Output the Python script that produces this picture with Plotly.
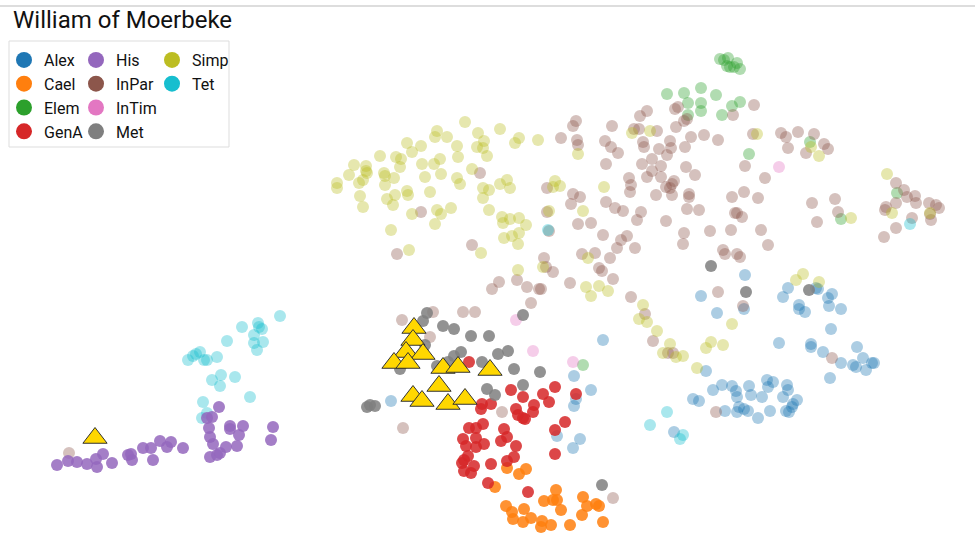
import plotly.graph_objects as go

W, H = 975, 553

categories = ["Alex", "Cael", "Elem", "GenA", "His", "InPar", "InTim", "Met", "Simp", "Tet"]
colors = {"Alex": "#1f77b4", "Cael": "#ff7f0e", "Elem": "#2ca02c", "GenA": "#d62728",
          "His": "#9467bd", "InPar": "#8c564b", "InTim": "#e377c2", "Met": "#7f7f7f",
          "Simp": "#bcbd22", "Tet": "#17becf"}
highlight = {"Cael", "GenA", "His", "Met"}

alex = [(745,275),(701,296),(717,313),(744,309),(603,340),(706,371),(783,297),(788,288),(816,288),(818,289),
        (828,298),(832,294),(799,305),(799,309),(805,312),(829,306),(841,309),(831,329),(779,343),(811,344),
        (811,347),(823,352),(857,347),(841,363),(853,365),(856,367),(863,358),(866,370),(872,363),(874,363),
        (830,378),(693,399),(699,401),(713,390),(722,385),(732,386),(736,391),(737,397),(749,386),(751,395),
        (762,397),(767,380),(773,382),(768,387),(787,385),(788,390),(783,397),(793,404),(792,407),(797,400),
        (786,411),(789,412),(770,411),(758,418),(748,411),(744,409),(739,407),(737,412),(725,411),(674,432),
        (574,376),(591,390),(576,399),(574,406),(557,436),(580,439),(573,448),(391,401)]
cael = [(507,468),(519,474),(526,469),(495,487),(506,506),(512,512),(513,519),(524,509),(523,522),(531,518),
        (542,521),(541,527),(551,525),(544,501),(553,500),(556,490),(557,500),(561,510),(570,525),(583,497),
        (587,506),(596,504),(599,506),(582,515),(603,522)]
elem = [(720,59),(724,60),(728,58),(730,67),(737,63),(740,69),(734,67),(727,66),(667,94),(684,93),(701,88),
        (716,95),(688,103),(701,103),(701,111),(688,115),(722,115),(732,106),(740,102),(749,154),(810,142),
        (897,193),(841,219),(583,365)]
gena = [(469,362),(511,390),(523,397),(543,394),(549,402),(555,387),(576,394),(482,404),(491,404),(481,409),
        (516,409),(518,415),(523,418),(525,419),(534,405),(533,412),(483,424),(469,428),(476,428),(504,429),
        (507,437),(501,441),(555,430),(565,422),(463,439),(466,446),(476,438),(476,447),(484,444),(516,446),
        (468,456),(462,463),(464,460),(474,466),(464,471),(471,473),(491,464),(507,461),(514,457),(555,454),
        (488,483),(528,492)]
his = [(57,465),(68,461),(77,462),(87,464),(96,459),(97,467),(103,454),(112,463),(128,455),(132,460),
       (131,454),(143,448),(151,448),(153,460),(160,441),(167,447),(171,442),(183,448),(210,457),(217,455),
       (220,453),(226,447),(237,446),(213,444),(210,437),(209,428),(230,426),(230,429),(239,435),(243,426),
       (219,407),(212,417),(207,418),(273,427),(271,440)]
inpar = [(576,121),(573,126),(612,126),(640,116),(647,111),(675,109),(678,107),(687,119),(684,121),(676,127),
         (754,105),(733,115),(561,138),(577,140),(578,145),(605,141),(611,147),(618,153),(634,129),(639,129),
         (657,131),(643,142),(644,147),(659,149),(670,141),(671,148),(667,155),(685,147),(691,137),(704,135),
         (718,140),(753,134),(781,133),(786,137),(798,132),(788,148),(814,134),(806,153),(824,144),(828,149),
         (606,164),(642,164),(652,159),(661,166),(652,171),(647,177),(661,177),(686,167),(695,175),(674,181),
         (672,184),(666,187),(670,188),(672,195),(629,178),(631,185),(630,192),(656,195),(689,194),(689,197),
         (745,166),(765,178),(744,192),(732,197),(758,198),(573,194),(580,197),(571,204),(547,188),(606,202),
         (615,208),(623,211),(641,212),(687,209),(699,210),(735,213),(737,213),(742,217),(547,212),(480,173),
         (578,224),(591,223),(603,235),(627,236),(621,240),(637,220),(666,221),(684,233),(683,244),(710,231),
         (731,230),(761,230),(768,245),(617,248),(635,248),(582,254),(595,253),(610,258),(544,258),(546,267),
         (553,272),(599,268),(602,271),(613,279),(570,283),(541,289),(631,297),(723,250),(725,254),(737,254),
         (740,257),(718,292),(743,306),(472,245),(499,282),(492,289),(517,280),(527,287),(539,289),(531,303),
         (463,312),(475,312),(645,314),(653,341),(397,254),(421,212),(549,231),(433,312),(402,320),(430,337),
         (502,412),(403,428),(613,498),(668,353),(673,353),(832,358),(716,412),(69,453),(812,203),(835,199),
         (838,212),(817,222),(896,183),(904,190),(907,197),(915,196),(916,203),(896,203),(886,207),(885,210),
         (929,203),(936,205),(939,208),(930,214),(931,220),(912,218),(896,228),(884,237)]
intim = [(516,320),(533,351),(573,362),(779,167)]
met = [(427,313),(423,321),(443,326),(454,329),(471,336),(489,336),(425,345),(454,356),(461,352),(448,362),
       (437,366),(498,354),(508,351),(482,362),(514,369),(540,372),(523,385),(487,389),(495,395),(400,369),
       (370,405),(375,406),(367,407),(602,485),(523,315),(711,266),(746,292),(809,290)]
simp = [(465,122),(500,129),(478,133),(519,138),(515,143),(538,140),(437,131),(435,137),(447,137),(407,143),
        (421,146),(457,146),(477,147),(484,141),(483,148),(412,152),(380,156),(396,157),(401,159),(458,157),
        (487,156),(354,165),(366,166),(366,171),(367,173),(422,164),(434,164),(440,159),(400,167),(472,169),
        (349,175),(384,173),(385,176),(394,178),(363,180),(359,183),(337,183),(337,188),(425,177),(441,174),
        (457,178),(460,184),(385,185),(407,191),(408,195),(430,192),(395,195),(387,199),(393,205),(360,196),
        (363,207),(412,214),(437,210),(441,214),(451,208),(435,224),(391,230),(409,250),(483,188),(489,190),
        (500,184),(507,180),(510,188),(483,198),(489,210),(502,217),(503,223),(510,219),(519,218),(526,225),
        (519,233),(504,238),(512,236),(518,244),(481,253),(555,181),(560,186),(553,187),(549,211),(518,270),
        (578,154),(604,187),(583,211),(632,133),(650,131),(757,134),(588,258),(543,267),(586,287),(599,286),
        (608,291),(591,296),(643,305),(796,280),(803,274),(819,282),(639,319),(647,322),(657,331),(670,344),
        (663,353),(676,357),(683,356),(697,368),(706,348),(711,342),(723,345),(732,324),(811,147),(819,156),
        (887,174),(892,213),(851,218),(930,213)]
tet = [(280,316),(242,327),(258,323),(262,329),(259,327),(254,335),(263,342),(254,343),(257,350),(227,341),
       (217,357),(200,352),(196,354),(193,356),(188,360),(204,360),(207,360),(212,380),(221,375),(220,386),
       (235,377),(250,397),(203,402),(207,413),(202,418),(548,230),(910,224),(667,412),(650,425),(683,435),
       (680,439)]
moerbeke = [(414,328),(413,340),(406,352),(423,354),(394,363),(408,363),(443,368),(458,367),(490,370),
            (439,386),(413,396),(422,401),(448,404),(465,399),(95,438)]

series = {"Alex": alex, "Cael": cael, "Elem": elem, "GenA": gena, "His": his, "InPar": inpar,
          "InTim": intim, "Met": met, "Simp": simp, "Tet": tet}

fig = go.Figure()

order = [c for c in categories if c not in highlight] + [c for c in categories if c in highlight]
for cat in order:
    pts = series[cat]
    fig.add_trace(go.Scatter(
        x=[p[0] for p in pts], y=[p[1] for p in pts], mode="markers", name=cat,
        legendgroup=cat, showlegend=False,
        marker=dict(size=12, color=colors[cat], opacity=0.85 if cat in highlight else 0.37,
                    line=dict(width=0)),
        hoverinfo="name"))

fig.add_trace(go.Scatter(
    x=[p[0] for p in moerbeke], y=[p[1] for p in moerbeke], mode="markers", name="William of Moerbeke",
    showlegend=False,
    marker=dict(symbol="triangle-up", size=21, color="#FFD700", line=dict(width=1, color="#333333"))))

legend_cols = [["Alex", "Cael", "Elem", "GenA"], ["His", "InPar", "InTim", "Met"], ["Simp", "Tet"]]
legend_names = ["legend", "legend2", "legend3"]
for lname, cols in zip(legend_names, legend_cols):
    for cat in cols:
        fig.add_trace(go.Scatter(x=[None], y=[None], mode="markers", name=cat, legendgroup=cat,
                                 legend=lname, showlegend=True,
                                 marker=dict(size=16, color=colors[cat])))

def px(x):
    return x / W

def py(y):
    return 1 - y / H

legend_x = [4, 76, 152]
layout_legends = {}
for lname, lx in zip(legend_names, legend_x):
    layout_legends[lname] = dict(x=px(lx), y=py(43), xanchor="left", yanchor="top",
                                 bgcolor="rgba(0,0,0,0)", borderwidth=0, tracegroupgap=0,
                                 font=dict(family="Roboto", size=16, color="#111"),
                                 itemclick=False, itemdoubleclick=False)

fig.update_layout(
    width=W, height=H,
    margin=dict(l=0, r=0, t=0, b=0),
    paper_bgcolor="white", plot_bgcolor="white",
    xaxis=dict(range=[0, W], visible=False, fixedrange=True),
    yaxis=dict(range=[H, 0], visible=False, fixedrange=True),
    title=dict(text="William of Moerbeke", x=px(13), y=py(11), xanchor="left", yanchor="top",
               xref="paper", yref="paper",
               font=dict(family="Roboto", size=24, color="#111")),
    shapes=[
        dict(type="line", xref="paper", yref="paper", x0=0, x1=1, y0=py(6), y1=py(6),
             line=dict(color="#bbbbbb", width=1)),
        dict(type="rect", xref="paper", yref="paper", x0=px(9), x1=px(229), y0=py(41), y1=py(147),
             line=dict(color="#dddddd", width=1)),
    ],
    **layout_legends,
)

fig.write_html("out.html", config={"displayModeBar": False},
               post_script="document.body.style.margin='0';document.body.style.overflow='hidden';")
